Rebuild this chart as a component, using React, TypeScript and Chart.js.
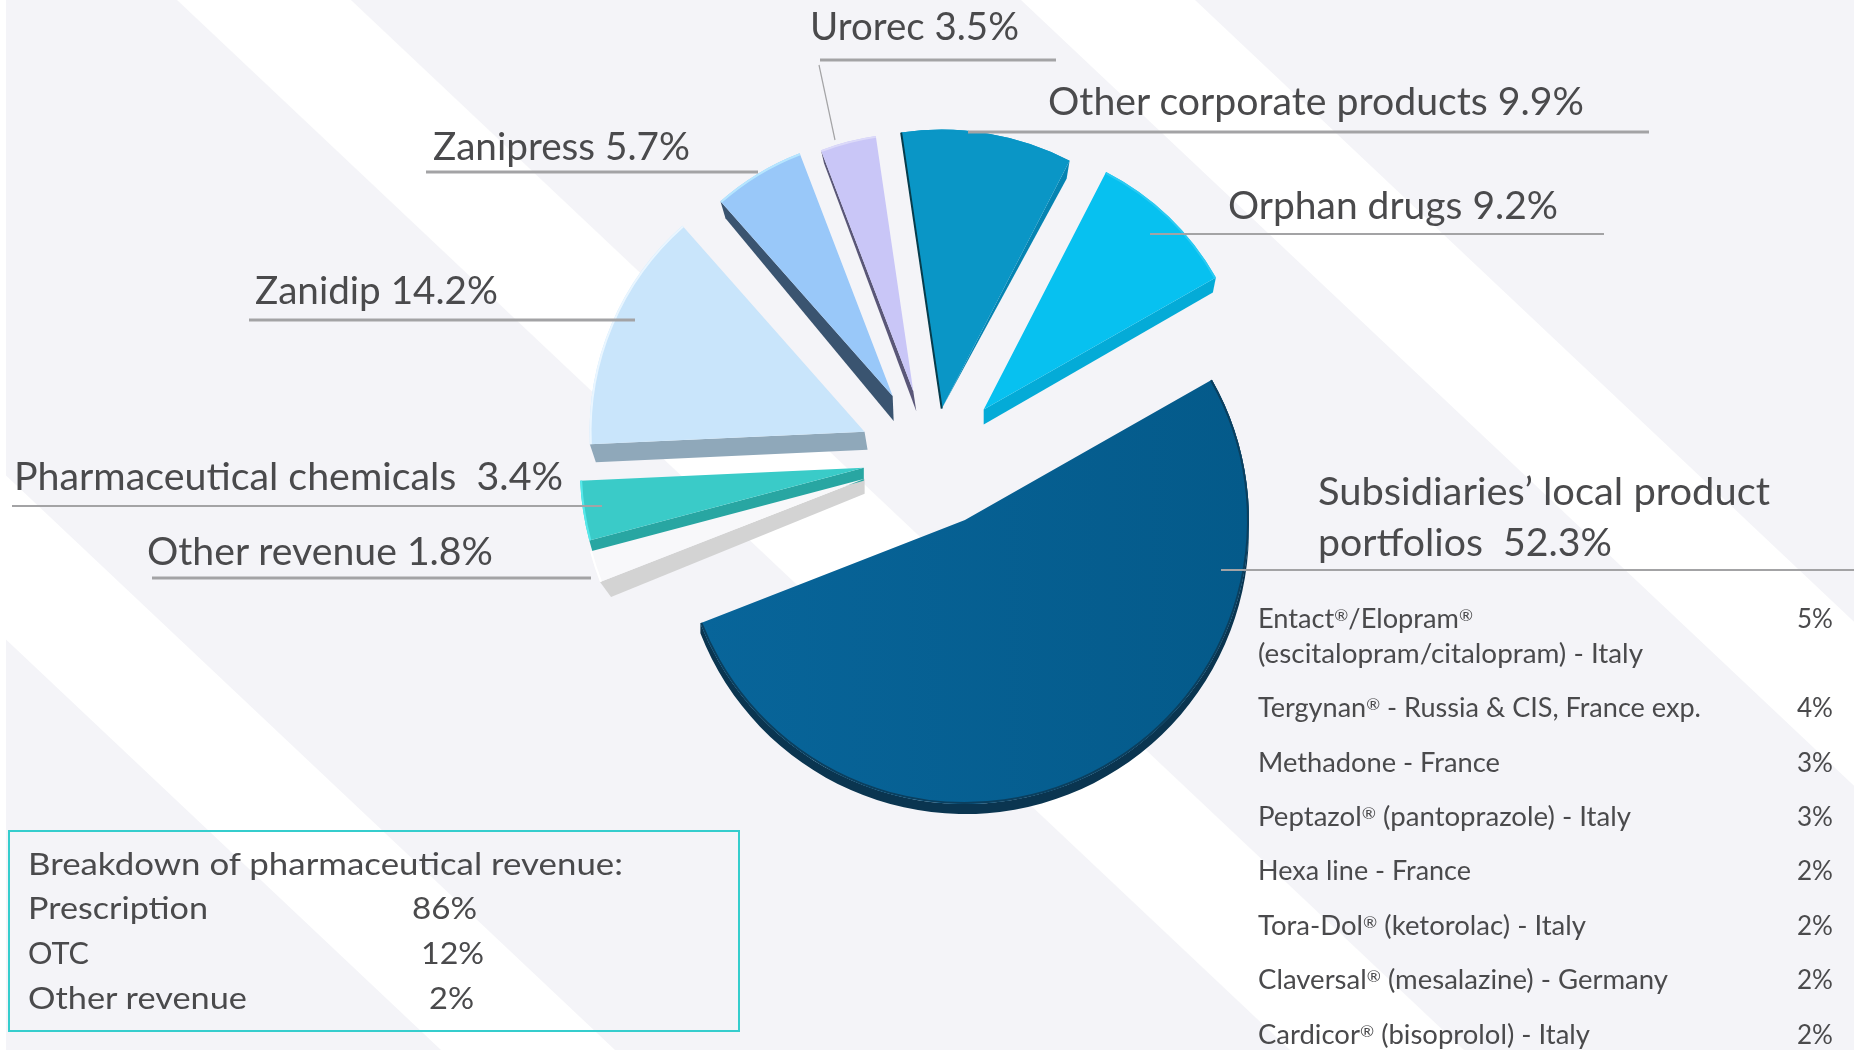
import React, { useEffect, useRef } from "react";
import { Chart, registerables } from "chart.js";

Chart.register(...registerables);

// ---- data ----
const categories = [
  "Subsidiaries’ local product portfolios",
  "Other revenue",
  "Pharmaceutical chemicals",
  "Zanidip",
  "Zanipress",
  "Urorec",
  "Other corporate products",
  "Orphan drugs",
];
const shares = [52.3, 1.8, 3.4, 14.2, 5.7, 3.5, 9.9, 9.2];

const tableProducts = [
  "Tergynan® - Russia & CIS, France exp.",
  "Methadone - France",
  "Peptazol® (pantoprazole) - Italy",
  "Hexa line - France",
  "Tora-Dol® (ketorolac) - Italy",
  "Claversal® (mesalazine) - Germany",
  "Cardicor® (bisoprolol) - Italy",
];
const tablePercents = ["4%", "3%", "3%", "2%", "2%", "2%", "2%"];

const boxRows = ["Prescription", "OTC", "Other revenue"];
const boxPercents = ["86%", "12%", "2%"];

// ---- slice styling (same order as categories) ----
const topColors = ["#055f90", "#f8f8fa", "#3acbc8", "#c9e5fb", "#99c8f9", "#c9c6f7", "#0a96c6", "#07c1f0"];
const wallColors = ["#0a3550", "#d3d3d3", "#28a6a2", "#8fa8ba", "#3a5470", "#5a5778", "#0584b2", "#04abd7"];
const rimColors = ["#0b3f5e", "#ffffff", "#55e8ea", "#eaf6ff", "#b6e6ff", "#dcdaf9", "#0a96c6", "#2bcaf2"];
const explodePx = [72, 73, 71, 70, 73, 66, 47, 66];
const apexNudges = [[0, 0], [0, 1], [0, 2], [-5, 4], [-3.5, 3.5], [-4, 0], [0, 0], [4, 2]];
const radiiPx = [284, 284, 284, 275, 260, 258, 279, 267];
const arcDepthPx = [10, 0, 0, 0, 0, 0, 0, 0];
const wallSides = [null, "start", "start", "start", "start", "start", "end", "end"];
const apexDrops = [[0, 0], [0, 15], [0, 13], [3, 18], [1, 25], [3, 20], [0, 0], [0, 15]];
const outerDrops = [[0, 0], [11, 15], [4, 14], [6, 18], [5, 17], [3, 13], [-3, 18], [-3, 15]];
const leftEdgeColors = [null, null, null, null, null, null, "#063c4c", null];

const BG = "#f4f4f8";
const BAND_STARTS = [-672, 177, 1021];
const BAND_WIDTH = 174;
const BAND_SLOPE = 1.06;

const backgroundPlugin = {
  id: "bandedBackground",
  beforeDraw(chart: any) {
    const { ctx, width, height } = chart;
    ctx.save();
    ctx.fillStyle = "#ffffff";
    ctx.fillRect(0, 0, width, height);
    ctx.fillStyle = BG;
    ctx.fillRect(6, 0, width - 6, height);
    ctx.beginPath();
    ctx.rect(6, 0, width - 6, height);
    ctx.clip();
    ctx.fillStyle = "#ffffff";
    for (const s of BAND_STARTS) {
      ctx.beginPath();
      ctx.moveTo(s, 0);
      ctx.lineTo(s + BAND_WIDTH, 0);
      ctx.lineTo(s + BAND_WIDTH + BAND_SLOPE * height, height);
      ctx.lineTo(s + BAND_SLOPE * height, height);
      ctx.closePath();
      ctx.fill();
    }
    ctx.restore();
  },
};

const solidPiePlugin = {
  id: "solidPie",
  beforeDatasetsDraw(chart: any) {
    const arcs = chart.getDatasetMeta(0).data;
    const { ctx, chartArea } = chart;
    const cx = (chartArea.left + chartArea.right) / 2;
    const cy = (chartArea.top + chartArea.bottom) / 2;
    arcs.forEach((arc: any, i: number) => {
      // explode each slice by moving its own apex along its mid-angle
      const mid = (arc.startAngle + arc.endAngle) / 2;
      arc.x = cx + Math.cos(mid) * explodePx[i] + apexNudges[i][0];
      arc.y = cy + Math.sin(mid) * explodePx[i] + apexNudges[i][1];
      arc.outerRadius = radiiPx[i];
      ctx.save();
      ctx.fillStyle = wallColors[i];
      const d = arcDepthPx[i];
      if (d > 0) {
        ctx.beginPath();
        ctx.arc(arc.x, arc.y, radiiPx[i], arc.startAngle, arc.endAngle);
        ctx.arc(arc.x, arc.y + d, radiiPx[i], arc.endAngle, arc.startAngle, true);
        ctx.closePath();
        ctx.fill();
      }
      const side = wallSides[i];
      if (side) {
        const a = side === "start" ? arc.startAngle : arc.endAngle;
        const ox = arc.x + Math.cos(a) * radiiPx[i];
        const oy = arc.y + Math.sin(a) * radiiPx[i];
        ctx.beginPath();
        ctx.moveTo(arc.x, arc.y);
        ctx.lineTo(ox, oy);
        ctx.lineTo(ox + outerDrops[i][0], oy + outerDrops[i][1]);
        ctx.lineTo(arc.x + apexDrops[i][0], arc.y + apexDrops[i][1]);
        ctx.closePath();
        ctx.fill();
      }
      ctx.restore();
    });
  },
  afterDatasetsDraw(chart: any) {
    const arcs = chart.getDatasetMeta(0).data;
    const { ctx } = chart;
    arcs.forEach((arc: any, i: number) => {
      ctx.save();
      ctx.strokeStyle = rimColors[i];
      ctx.lineWidth = 2;
      ctx.beginPath();
      ctx.arc(arc.x, arc.y, radiiPx[i] - 1, arc.startAngle, arc.endAngle);
      ctx.stroke();
      const edge = leftEdgeColors[i];
      if (edge) {
        ctx.strokeStyle = edge;
        ctx.lineWidth = 2;
        ctx.beginPath();
        ctx.moveTo(arc.x, arc.y);
        ctx.lineTo(
          arc.x + Math.cos(arc.startAngle) * radiiPx[i],
          arc.y + Math.sin(arc.startAngle) * radiiPx[i]
        );
        ctx.stroke();
      }
      ctx.restore();
    });
  },
};

// ---- annotation layout ----
type T = { text: string; x: number; end: number; y: number; size: number };
const S_LABEL = 38.5;
const S_BOX = 31;
const S_TABLE = 26;

const pieLabels: T[] = [
  { text: "Urorec 3.5%", x: 810, end: 1019, y: 40, size: S_LABEL },
  { text: "Other corporate products 9.9%", x: 1048, end: 1584, y: 115, size: S_LABEL },
  { text: "Orphan drugs 9.2%", x: 1228, end: 1558, y: 219, size: S_LABEL },
  { text: "Zanipress 5.7%", x: 433, end: 690, y: 160, size: S_LABEL },
  { text: "Zanidip 14.2%", x: 255, end: 498, y: 304, size: S_LABEL },
  { text: "Pharmaceutical chemicals  3.4%", x: 14, end: 563, y: 490, size: S_LABEL },
  { text: "Other revenue 1.8%", x: 147, end: 493, y: 565, size: S_LABEL },
  { text: "Subsidiaries’ local product", x: 1318, end: 1770, y: 505, size: S_LABEL },
  { text: "portfolios  52.3%", x: 1318, end: 1612, y: 556, size: S_LABEL },
];

const boxBaselines = [919, 964, 1009];
const boxRowEnds = [208, 89, 247];
const boxPctStarts = [412, 421, 429];
const boxPctEnds = [477, 484, 474];

const tableBaselines = [717, 772, 826, 880, 935, 989, 1044];
const tableEnds = [1701, 1500, 1631, 1471, 1586, 1668, 1590];

const otherTexts: T[] = [
  { text: "Breakdown of pharmaceutical revenue:", x: 28, end: 623, y: 875, size: S_BOX },
  ...boxRows.map((t, i) => ({ text: t, x: 28, end: boxRowEnds[i], y: boxBaselines[i], size: S_BOX })),
  ...boxPercents.map((t, i) => ({ text: t, x: boxPctStarts[i], end: boxPctEnds[i], y: boxBaselines[i], size: S_BOX })),
  { text: "Entact®/Elopram®", x: 1258, end: 1473, y: 628, size: S_TABLE },
  { text: "(escitalopram/citalopram) - Italy", x: 1258, end: 1643, y: 663, size: S_TABLE },
  { text: "5%", x: 1797, end: 1833, y: 628, size: S_TABLE },
  ...tableProducts.map((t, i) => ({ text: t, x: 1258, end: tableEnds[i], y: tableBaselines[i], size: S_TABLE })),
  ...tablePercents.map((t, i) => ({ text: t, x: 1797, end: 1833, y: tableBaselines[i], size: S_TABLE })),
];

const leaders = [
  [820, 60, 1056, 60, 3],
  [819, 65, 835, 140, 1.2],
  [968, 132, 1649, 132, 3],
  [1150, 234, 1604, 234, 2.2],
  [426, 172, 758, 172, 2.8],
  [249, 320, 635, 320, 2.8],
  [12, 506, 602, 506, 2.2],
  [152, 578, 591, 578, 3],
  [1221, 570, 1854, 570, 2.2],
];

function Label({ t }: { t: T }) {
  const parts = t.text.split("®");
  return (
    <text
      x={t.x}
      y={t.y}
      textLength={t.end - t.x}
      lengthAdjust="spacingAndGlyphs"
      fontFamily="Lato, 'Open Sans', sans-serif"
      fontSize={t.size}
      fill="#4a4a4c"
      xmlSpace="preserve"
    >
      {parts.map((p, i) => (
        <React.Fragment key={i}>
          <tspan>{p}</tspan>
          {i < parts.length - 1 && (
            <>
              <tspan fontSize={t.size * 0.62} dy={-t.size * 0.26}>®</tspan>
              <tspan dy={t.size * 0.26}>{"\u200b"}</tspan>
            </>
          )}
        </React.Fragment>
      ))}
    </text>
  );
}

export default function App() {
  const ref = useRef<HTMLCanvasElement | null>(null);
  useEffect(() => {
    if (!ref.current) return;
    const ctx2d = ref.current.getContext("2d") as CanvasRenderingContext2D;
    const bigFill = ctx2d.createLinearGradient(700, 0, 1250, 0);
    bigFill.addColorStop(0, "#08659a");
    bigFill.addColorStop(1, "#045a8a");
    const fills: any[] = topColors.map((c, i) => (i === 0 ? bigFill : c));
    const chart = new Chart(ref.current, {
      type: "pie",
      data: {
        labels: categories,
        datasets: [
          {
            data: shares,
            backgroundColor: fills,
            borderWidth: 0,
            hoverOffset: 0,
          } as any,
        ],
      },
      options: {
        responsive: false,
        animation: false,
        devicePixelRatio: 1,
        rotation: 60.4,
        events: [],
        layout: { padding: { left: 14, bottom: 140 } },
        plugins: { legend: { display: false }, tooltip: { enabled: false } },
      },
      plugins: [backgroundPlugin, solidPiePlugin],
    } as any);
    return () => chart.destroy();
  }, []);

  return (
    <div style={{ position: "absolute", left: 0, top: 0, width: 1854, height: 1050, overflow: "hidden" }}>
      <canvas ref={ref} width={1854} height={1050} style={{ position: "absolute", left: 0, top: 0, display: "block" }} />
      <svg width={1854} height={1050} style={{ position: "absolute", left: 0, top: 0, display: "block" }}>
        {leaders.map((l, i) => (
          <line key={i} x1={l[0]} y1={l[1]} x2={l[2]} y2={l[3]} stroke="#a3a3a5" strokeWidth={l[4]} />
        ))}
        <rect x={9} y={831} width={730} height={200} fill="none" stroke="#35cdcd" strokeWidth={2} />
        {pieLabels.map((t, i) => (
          <Label key={i} t={t} />
        ))}
        {otherTexts.map((t, i) => (
          <Label key={i} t={t} />
        ))}
      </svg>
    </div>
  );
}
